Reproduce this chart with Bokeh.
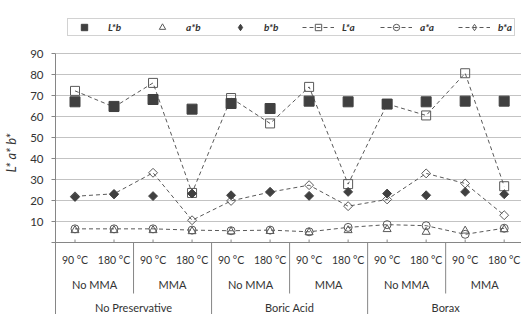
import numpy as np
from bokeh.plotting import figure
from bokeh.models import Range1d, FixedTicker, Span, Legend, LegendItem
from bokeh.core.properties import value
from bokeh.embed import file_html
from bokeh.resources import INLINE

# ---- data ----
preservatives = ["No Preservative", "Boric Acid", "Borax"]
mma_levels = ["No MMA", "MMA"]
temperatures = ["90 °C", "180 °C"]

L_b = [67.0, 64.8, 68.1, 63.5, 66.2, 63.8, 67.3, 67.0, 65.9, 67.0, 67.3, 67.3]
a_b = [5.8, 5.8, 5.8, 5.3, 5.2, 5.4, 4.8, 5.8, 6.3, 5.0, 5.6, 6.2]
b_b = [21.7, 22.9, 22.1, 23.3, 22.5, 24.1, 22.2, 24.1, 23.3, 22.5, 24.1, 23.0]
L_a = [72.2, 64.5, 76.0, 23.6, 68.8, 56.7, 74.1, 27.8, 66.0, 60.5, 80.6, 26.8]
a_a = [6.5, 6.5, 6.5, 5.9, 5.6, 5.9, 5.1, 7.2, 8.5, 8.0, 3.9, 6.8]
b_a = [22.0, 23.2, 33.2, 10.6, 19.8, 24.0, 27.3, 17.3, 20.5, 32.9, 28.1, 13.0]

series_labels = ["L*b", "a*b", "b*b", "L*a", "a*a", "b*a"]
y_label = "L* a* b*"
y_ticks = list(range(0, 91, 10))

# ---- layout ----
W, H = 521, 314
LEFT = 54          # frame left edge (px)
TOP90 = 53         # pixel row of the 90 gridline
CELL = 39.1
PX_PER_UNIT = 189 / 90.0
y_max_tick = y_ticks[-1]
y_top = y_max_tick + TOP90 / PX_PER_UNIT
y_bot = y_max_tick - (H - TOP90) / PX_PER_UNIT

n_t = len(temperatures)
n_m = len(mma_levels)
n_cat = len(preservatives) * n_m * n_t
xs = np.arange(n_cat) + 0.5

p = figure(width=W, height=H,
           x_range=Range1d(0, (W - LEFT) / CELL),
           y_range=Range1d(y_bot, y_top),
           x_axis_location=None,
           output_backend="svg", toolbar_location=None,
           min_border_left=LEFT, min_border_right=0,
           min_border_top=0, min_border_bottom=0)
p.title.visible = False
p.outline_line_color = None
p.background_fill_color = "white"
p.xgrid.visible = False

AX = "#868686"
TXT = "#333333"
FONT = "Lato"

yax = p.yaxis[0]
yax.ticker = FixedTicker(ticks=y_ticks)
yax.bounds = (y_bot, y_max_tick)
yax.major_label_overrides = {0: ""}
yax.major_tick_out = 4
yax.major_tick_in = 0
yax.minor_tick_out = 0
yax.minor_tick_in = 0
yax.axis_line_color = AX
yax.major_tick_line_color = AX
yax.major_label_text_font = FONT
yax.major_label_text_font_size = "11.5px"
yax.major_label_text_color = TXT
yax.major_label_standoff = 8
# leading no-break spaces lift the label towards the centre of the 0-90 span
yax.axis_label = "\u00a0" * 3 + y_label
yax.axis_label_text_font = FONT
yax.axis_label_text_font_style = "italic"
yax.axis_label_text_font_size = "13px"
yax.axis_label_text_color = TXT
yax.axis_label_standoff = 8
p.ygrid.ticker = FixedTicker(ticks=y_ticks[1:])
p.ygrid.grid_line_color = "#c3c3c3"

p.add_layout(Span(location=0, dimension="width", line_color=AX, line_width=1))

# category tick marks
p.segment(x0=xs, y0=0, x1=xs, y1=3 / PX_PER_UNIT, line_color=AX)

# separators
inner = [k * n_m * n_t + n_t for k in range(len(preservatives))]
outer = [k * n_m * n_t for k in range(1, len(preservatives))]
p.segment(x0=inner, y0=[0] * len(inner), x1=inner, y1=[-51 / PX_PER_UNIT] * len(inner), line_color=AX)
p.segment(x0=outer, y0=[0] * len(outer), x1=outer, y1=[y_bot] * len(outer), line_color=AX)

# category labels
temp_labels = temperatures * (len(preservatives) * n_m)
p.text(x=xs, y=-17 / PX_PER_UNIT, text=temp_labels, text_font=value(FONT), text_font_size="10.5px",
       text_color=TXT, text_align="center", text_baseline="middle")
mma_labels = mma_levels * len(preservatives)
mma_x = [i * n_t + n_t / 2 for i in range(len(mma_labels))]
p.text(x=mma_x, y=-42 / PX_PER_UNIT, text=mma_labels, text_font=value(FONT), text_font_size="11px",
       text_color=TXT, text_align="center", text_baseline="middle")
grp_x = [i * n_m * n_t + n_m * n_t / 2 for i in range(len(preservatives))]
p.text(x=grp_x, y=-65 / PX_PER_UNIT, text=preservatives, text_font=value(FONT), text_font_size="11px",
       text_color=TXT, text_align="center", text_baseline="middle")

# ---- series ----
LINE = "#595959"
FILL = "#404040"
DASH = "4 3"

l_La = p.line(xs, L_a, line_color=LINE, line_dash=DASH, line_width=1)
l_aa = p.line(xs, a_a, line_color=LINE, line_dash=DASH, line_width=1)
l_ba = p.line(xs, b_a, line_color=LINE, line_dash=DASH, line_width=1)

s_La = p.scatter(xs, L_a, marker="square", size=9, fill_color=None, line_color=LINE)
s_aa = p.scatter(xs, a_a, marker="circle", size=8, fill_color=None, line_color=LINE)
s_ba = p.scatter(xs, b_a, marker="square", size=6.3, angle=np.pi / 4, fill_color=None, line_color=LINE)
s_ab = p.scatter(xs, a_b, marker="triangle", size=8, fill_color=None, line_color=LINE)

s_Lb = p.scatter(xs, L_b, marker="square", size=10, fill_color=FILL, line_color=FILL)
s_bb = p.scatter(xs, b_b, marker="square", size=6.3, angle=np.pi / 4, fill_color=FILL, line_color=FILL)

# legend-only diamond glyphs (legend ignores marker angle); placed outside the visible range
k_bb = p.scatter([-5], [-500], marker="diamond", fill_color=FILL, line_color=FILL)
k_ba = p.scatter([-5], [-500], marker="diamond", fill_color=None, line_color=LINE)

items = [
    LegendItem(label=series_labels[0], renderers=[s_Lb]),
    LegendItem(label=series_labels[1], renderers=[s_ab]),
    LegendItem(label=series_labels[2], renderers=[k_bb]),
    LegendItem(label=series_labels[3], renderers=[l_La, s_La]),
    LegendItem(label=series_labels[4], renderers=[l_aa, s_aa]),
    LegendItem(label=series_labels[5], renderers=[l_ba, k_ba]),
]
LEG_X, LEG_BOTTOM = 66, 36   # legend box left edge and bottom edge, in px
legend = Legend(items=items, orientation="horizontal",
                location=(LEG_X - LEFT, H - LEG_BOTTOM),
                glyph_width=32, glyph_height=16, label_height=16, label_width=16,
                label_standoff=8, spacing=22, padding=0,
                border_line_color="#a6a6a6",
                label_text_font=FONT, label_text_font_style="bold italic",
                label_text_font_size="10px", label_text_color=TXT)
p.add_layout(legend)

open("out.html", "w").write(file_html(p, INLINE))
